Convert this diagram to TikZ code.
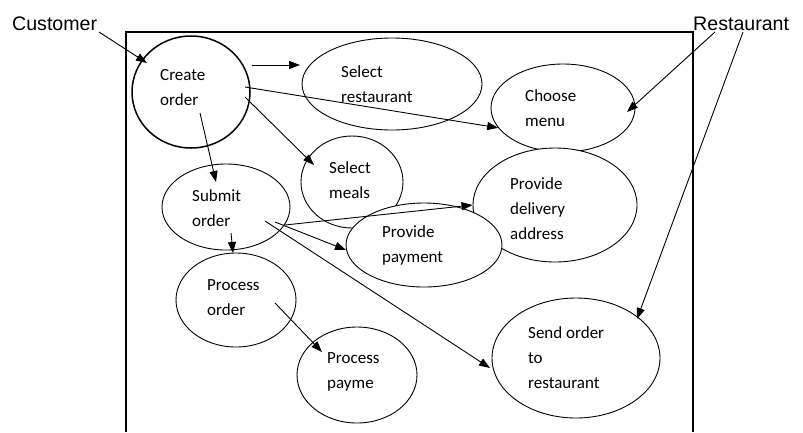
\documentclass[tikz,border=0pt]{standalone}
\usepackage{fontspec}
\setmainfont{Liberation Sans}
\newfontfamily\calfont{Carlito}
\usetikzlibrary{arrows.meta,shapes.geometric}
\tikzset{
  >={Triangle[length=11pt,width=8pt]},
  usecase/.style={ellipse,draw,fill=white,inner sep=0pt,line width=.9pt},
  ucname/.style={font=\calfont\fontsize{17}{25}\selectfont,align=left,inner sep=0pt,anchor=west},
  actor/.style={font=\fontsize{19.6}{22}\selectfont,inner sep=0pt,anchor=base west},
  flow/.style={->,line width=.9pt},
}
\begin{document}
\begin{tikzpicture}[x=1pt,y=-1pt]
  \useasboundingbox (0,0) rectangle (803,432);
  \draw[line width=1.2pt] (126,432) |- (693,32) -- (693,432);
  \node[actor] (customer) at (12,30) {Customer};
  \node[actor] (restaurant) at (693,30) {Restaurant};

  \node[usecase,minimum width=180pt,minimum height=92pt] (selrest) at (392,84) {};
  \node[ucname] (selrest-t) at ([xshift=-51pt]selrest.center) {Select\\restaurant};
  \node[usecase,minimum width=144pt,minimum height=88pt] (choose) at (563,108) {};
  \node[ucname] (choose-t) at ([xshift=-38pt]choose.center) {Choose\\menu};
  \node[usecase,minimum width=164pt,minimum height=114pt] (delivery) at (555,205) {};
  \node[ucname] (delivery-t) at ([xshift=-45pt,yshift=-4pt]delivery.center) {Provide\\delivery\\address};
  \node[usecase,minimum width=102pt,minimum height=92pt] (meals) at (352,182) {};
  \node[ucname] (meals-t) at ([xshift=-23pt,yshift=2pt]meals.center) {Select\\meals};
  \node[usecase,line width=1.5pt,minimum width=118pt,minimum height=112pt] (create) at (191,92) {};
  \node[ucname] (create-t) at ([xshift=-31pt,yshift=4pt]create.center) {Create\\order};
  \node[usecase,minimum width=128pt,minimum height=86pt] (submit) at (226,207) {};
  \node[ucname] (submit-t) at ([xshift=-34pt,yshift=-1pt]submit.center) {Submit\\order};
  \node[usecase,minimum width=156pt,minimum height=84pt] (payment) at (424,245) {};
  \node[ucname] (payment-t) at ([xshift=-42pt]payment.center) {Provide\\payment};
  \node[usecase,minimum width=120pt,minimum height=94pt] (procorder) at (236,300) {};
  \node[ucname] (procorder-t) at ([xshift=-29pt,yshift=2pt]procorder.center) {Process\\order};
  \node[usecase,minimum width=120pt,minimum height=96pt] (procpay) at (357,375) {};
  \node[ucname] (procpay-t) at ([xshift=-30pt,yshift=3pt]procpay.center) {Process\\payme};
  \node[usecase,minimum width=168pt,minimum height=120pt] (send) at (576,358) {};
  \node[ucname] (send-t) at ([xshift=-48pt]send.center) {Send order\\to\\restaurant};

  \draw[flow] ([shift={(87,2)}]customer.base west) -- ([shift={(-44,-29)}]create.center);
  \draw[flow] ([shift={(22,2)}]restaurant.base west) -- ([shift={(64,4)}]choose.center);
  \draw[flow] ([shift={(50,2)}]restaurant.base west) -- ([shift={(61,-39)}]send.center);
  \draw[flow] ([shift={(61,-27)}]create.center) -- ([shift={(-92,-19)}]selrest.center);
  \draw[flow] ([shift={(54,-5)}]create.center) -- (choose.197);
  \draw[flow] ([shift={(54,5)}]create.center) -- ([shift={(-38,-17)}]meals.center);
  \draw[flow] ([shift={(9,21)}]create.center) -- ([shift={(-10,-25)}]submit.center);
  \draw[flow] ([shift={(5,26)}]submit.center) -- ([shift={(-3,-47)}]procorder.center);
  \draw[flow] ([shift={(59,18)}]submit.center) -- (delivery.west);
  \draw[flow] ([shift={(49,15)}]submit.center) -- ([shift={(-78,5)}]payment.center);
  \draw[flow] ([shift={(39,14)}]submit.center) -- ([shift={(-86,10)}]send.center);
  \draw[flow] ([shift={(39,3)}]procorder.center) -- ([shift={(-35,-23)}]procpay.center);
\end{tikzpicture}
\end{document}
